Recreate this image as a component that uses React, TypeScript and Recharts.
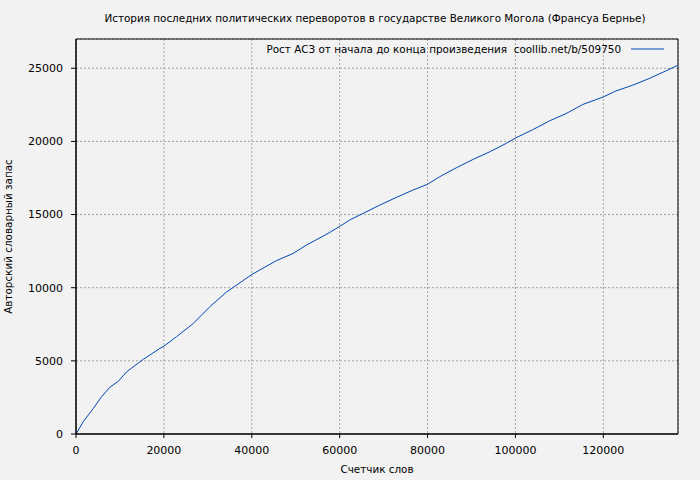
import React from 'react';
import {
  LineChart, Line, XAxis, YAxis, CartesianGrid, Legend, ReferenceArea, Label,
} from 'recharts';

const wordCounts = [
  0, 1670, 3940, 5830, 7730, 9620, 11520, 15300, 19090, 20000, 22880, 26670,
  30450, 34240, 40000, 45600, 49400, 52420, 56200, 57730, 60000, 62270, 65300,
  69090, 72880, 76670, 80000, 82730, 86520, 90300, 94090, 97880, 100000, 103940,
  107730, 111520, 115300, 120000, 122880, 126670, 130450, 134240, 136900,
];
const vocabulary = [
  0, 850, 1750, 2550, 3200, 3600, 4250, 5100, 5850, 6000, 6650, 7550,
  8700, 9700, 10900, 11850, 12340, 12910, 13520, 13776, 14190, 14620, 15075,
  15642, 16170, 16670, 17070, 17580, 18190, 18760, 19280, 19860, 20230, 20800,
  21400, 21900, 22520, 23040, 23450, 23840, 24300, 24820, 25200,
];
const xTicks = [0, 20000, 40000, 60000, 80000, 100000, 120000];
const yTicks = [0, 5000, 10000, 15000, 20000, 25000];

const title = 'История последних политических переворотов в государстве Великого Могола (Франсуа Бернье)';
const seriesName = 'Рост АСЗ от начала до конца произведения  coollib.net/b/509750';
const xLabel = 'Счетчик слов';
const yLabel = 'Авторский словарный запас';

const data = wordCounts.map((w, i) => ({ w, v: vocabulary[i] }));

const FONT = '"DejaVu Sans", Verdana, sans-serif';
const TEXT_SIZE = 10.4;
const LINE_COLOR = '#0047b0';

const LegendContent = () => (
  <div style={{ display: 'flex', alignItems: 'center', font: `${TEXT_SIZE}px ${FONT}`, color: '#000', whiteSpace: 'pre' }}>
    <span>{seriesName}</span>
    <svg width={44} height={10} style={{ display: 'block' }}>
      <line x1={10} y1={5} x2={43} y2={5} stroke={LINE_COLOR} strokeWidth={1} />
    </svg>
  </div>
);

const YLabel = (props: any) => {
  const vb = props.viewBox || {};
  const cy = vb.y + vb.height / 2;
  return (
    <text x={12} y={cy} transform={`rotate(-90, 12, ${cy})`} textAnchor="middle"
      style={{ font: `${TEXT_SIZE}px ${FONT}` }} fill="#000">{yLabel}</text>
  );
};

const XLabel = (props: any) => {
  const vb = props.viewBox || {};
  const cx = vb.x + vb.width / 2;
  return (
    <text x={cx} y={473} textAnchor="middle" style={{ font: `${TEXT_SIZE}px ${FONT}` }} fill="#000">{xLabel}</text>
  );
};

export default function App() {
  return (
    <div style={{ position: 'absolute', left: 0, top: 0, width: 700, height: 480, background: '#f2f2f2' }}>
      <div style={{ position: 'absolute', left: 0, top: 12, width: 750, textAlign: 'center', font: `${TEXT_SIZE}px ${FONT}`, color: '#000' }}>
        {title}
      </div>
      <LineChart width={700} height={480} data={data}
        margin={{ top: 39, right: 22, left: 0, bottom: 0 }}>
        <CartesianGrid stroke="#a0a0a0" strokeDasharray="2 2" />
        <XAxis dataKey="w" type="number" domain={[0, 137000]} ticks={xTicks} allowDataOverflow
          height={46} tickSize={4} tickMargin={8} stroke="#000"
          tick={{ fill: '#000', fontSize: 11, fontFamily: FONT }} interval={0}>
          <Label content={<XLabel />} />
        </XAxis>
        <YAxis type="number" domain={[0, 27000]} ticks={yTicks} allowDataOverflow
          width={76} tickSize={5} tickMargin={8} stroke="#000"
          tick={{ fill: '#000', fontSize: 11, fontFamily: FONT }} interval={0}>
          <Label content={<YLabel />} />
        </YAxis>
        <ReferenceArea x1={0} x2={137000} y1={0} y2={27000} fill="none" stroke="#000" strokeWidth={1} fillOpacity={0} />
        <Legend layout="horizontal" verticalAlign="middle" align="center"
          wrapperStyle={{ top: 43, right: 35, left: 'auto', width: 'auto' }}
          content={<LegendContent />} />
        <Line type="linear" dataKey="v" name={seriesName} stroke={LINE_COLOR} strokeWidth={1}
          dot={false} isAnimationActive={false} />
      </LineChart>
    </div>
  );
}
